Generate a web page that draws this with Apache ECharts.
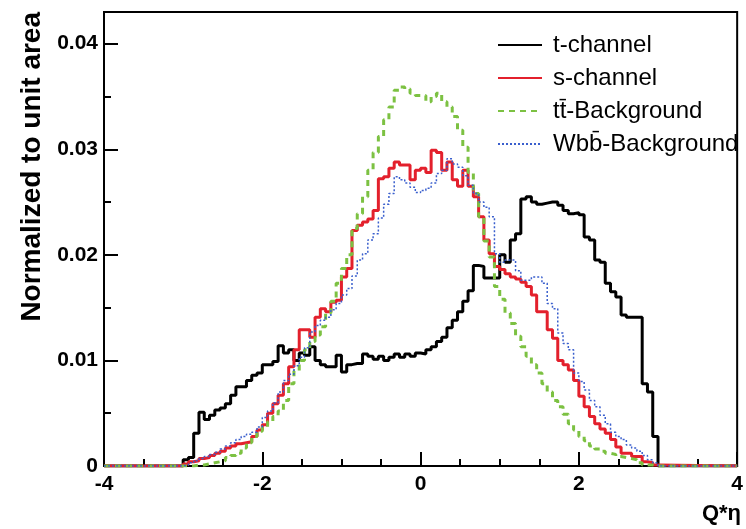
<!DOCTYPE html>
<html><head><meta charset="utf-8">
<script src="https://cdn.jsdelivr.net/npm/echarts/dist/echarts.min.js"></script>
<style>html,body{margin:0;padding:0;background:#fff}#c{width:746px;height:529px}</style>
</head><body><div id="c"></div><script>
// histogram: 120 bins over [-4, 4]; the filled bins run from -3 to 3
const binStart = -3.0;
const binWidth = 1 / 15;
const seriesNames = ['t-channel', 's-channel', 't\u0074\u0304-Background', 'Wb\u0062\u0304-Background'];
const tChannel = [
  0.0006,0.0008,0.0031,0.0051,0.0044,0.0048,0.0053,0.0055,0.0059,0.0067,
  0.0075,0.0075,0.0081,0.0086,0.0088,0.0096,0.0096,0.0099,0.0114,0.0107,
  0.0110,0.0100,0.0107,0.0105,0.0113,0.0100,0.0096,0.0094,0.0094,0.0105,
  0.0089,0.0096,0.0097,0.0097,0.0106,0.0104,0.0101,0.0104,0.0100,0.0103,
  0.0106,0.0103,0.0106,0.0104,0.0107,0.0106,0.0110,0.0113,0.0118,0.0122,
  0.0131,0.0138,0.0146,0.0156,0.0166,0.0190,0.0189,0.0178,0.0178,0.0178,
  0.0200,0.0193,0.0214,0.0220,0.0253,0.0255,0.0250,0.0248,0.0249,0.0250,
  0.0250,0.0247,0.0242,0.0239,0.0240,0.0238,0.0217,0.0214,0.0195,0.0193,
  0.0173,0.0165,0.0160,0.0143,0.0141,0.0141,0.0141,0.0078,0.0070,0.0028];
const sChannel = [
  0.0002,0.0004,0.0005,0.0007,0.0008,0.0010,0.0012,0.0014,0.0017,0.0019,
  0.0021,0.0022,0.0023,0.0028,0.0034,0.0039,0.0050,0.0059,0.0067,0.0078,
  0.0094,0.0110,0.0129,0.0129,0.0122,0.0141,0.0149,0.0146,0.0155,0.0157,
  0.0179,0.0187,0.0223,0.0228,0.0231,0.0234,0.0242,0.0272,0.0274,0.0282,
  0.0288,0.0285,0.0285,0.0271,0.0280,0.0282,0.0278,0.0299,0.0297,0.0280,
  0.0288,0.0271,0.0265,0.0280,0.0265,0.0255,0.0236,0.0214,0.0201,0.0189,
  0.0186,0.0182,0.0179,0.0177,0.0174,0.0170,0.0162,0.0146,0.0146,0.0129,
  0.0121,0.0100,0.0096,0.0091,0.0081,0.0066,0.0056,0.0047,0.0040,0.0035,
  0.0031,0.0025,0.0018,0.0012,0.0012,0.0009,0.0009,0.0004,0.0003,0.0001];
const ttBackground = [
  0.0000,0.0000,0.0001,0.0001,0.0002,0.0003,0.0004,0.0005,0.0008,0.0010,
  0.0012,0.0017,0.0022,0.0028,0.0033,0.0037,0.0042,0.0047,0.0052,0.0062,
  0.0078,0.0090,0.0100,0.0110,0.0118,0.0124,0.0132,0.0145,0.0156,0.0173,
  0.0187,0.0200,0.0225,0.0239,0.0255,0.0280,0.0297,0.0312,0.0328,0.0340,
  0.0356,0.0359,0.0357,0.0353,0.0351,0.0351,0.0345,0.0350,0.0353,0.0345,
  0.0340,0.0331,0.0318,0.0302,0.0278,0.0258,0.0236,0.0213,0.0198,0.0170,
  0.0158,0.0145,0.0135,0.0123,0.0113,0.0104,0.0096,0.0088,0.0078,0.0070,
  0.0062,0.0056,0.0049,0.0040,0.0034,0.0028,0.0024,0.0019,0.0016,0.0014,
  0.0012,0.0011,0.0009,0.0008,0.0007,0.0006,0.0003,0.0001,0.0001,0.0000];
const wbbBackground = [
  0.0001,0.0003,0.0005,0.0007,0.0009,0.0011,0.0013,0.0016,0.0019,0.0022,
  0.0025,0.0028,0.0030,0.0032,0.0037,0.0046,0.0052,0.0060,0.0070,0.0081,
  0.0087,0.0095,0.0103,0.0112,0.0127,0.0133,0.0138,0.0141,0.0148,0.0154,
  0.0162,0.0168,0.0180,0.0195,0.0201,0.0214,0.0220,0.0235,0.0248,0.0258,
  0.0274,0.0271,0.0268,0.0264,0.0259,0.0261,0.0263,0.0268,0.0277,0.0280,
  0.0291,0.0286,0.0283,0.0275,0.0266,0.0258,0.0250,0.0245,0.0236,0.0201,
  0.0193,0.0195,0.0195,0.0185,0.0176,0.0176,0.0179,0.0179,0.0173,0.0154,
  0.0149,0.0126,0.0116,0.0110,0.0088,0.0080,0.0072,0.0062,0.0056,0.0048,
  0.0040,0.0032,0.0028,0.0025,0.0020,0.0017,0.0014,0.0010,0.0006,0.0003];
const xTicks = [-4, -2, 0, 2, 4];
const yTicks = [0, 0.01, 0.02, 0.03, 0.04];

function toSteps(vals) {
  const pts = [[-4, 0]];
  for (let i = 0; i < vals.length; i++) pts.push([+(binStart + i * binWidth).toFixed(4), vals[i]]);
  pts.push([+(binStart + vals.length * binWidth).toFixed(4), 0]);
  pts.push([4, 0]);
  return pts;
}

const chart = echarts.init(document.getElementById('c'), null, {renderer: 'canvas'});
const FONT = 'Liberation Sans, Arial, sans-serif';
const styles = [
  {color: '#000000', width: 3, type: 'solid'},
  {color: '#e3202c', width: 3, type: 'solid'},
  {color: '#7cc142', width: 3, type: [6, 5]},
  {color: '#3a5fcd', width: 1.5, type: [2, 2]}
];
const data = [tChannel, sChannel, ttBackground, wbbBackground];
chart.setOption({
  animation: false,
  backgroundColor: '#fff',
  grid: {left: 104, right: 5, top: 12, bottom: 63, show: true, borderColor: '#000', borderWidth: 2},
  legend: {
    show: true, orient: 'vertical', left: 497, top: 33, padding: 0, itemWidth: 44, itemHeight: 14, itemGap: 9,
    itemStyle: {opacity: 0},
    textStyle: {fontFamily: FONT, fontSize: 24, color: '#000', padding: [0, 0, 0, 6]},
    data: seriesNames
  },
  xAxis: {
    type: 'value', min: xTicks[0], max: xTicks[xTicks.length - 1], interval: 2,
    axisLine: {onZero: false, lineStyle: {color: '#000', width: 2}},
    axisTick: {inside: true, length: 14, lineStyle: {color: '#000', width: 2}},
    minorTick: {show: true, splitNumber: 4, length: 7, lineStyle: {color: '#000', width: 2}},
    splitLine: {show: false},
    axisLabel: {fontFamily: FONT, fontWeight: 'bold', fontSize: 21, color: '#000', margin: 8}
  },
  yAxis: {
    type: 'value', min: 0, max: 0.043, interval: 0.01,
    axisLine: {onZero: false, lineStyle: {color: '#000', width: 2}},
    axisTick: {inside: true, length: 14, lineStyle: {color: '#000', width: 2}},
    minorTick: {show: true, splitNumber: 2, length: 7, lineStyle: {color: '#000', width: 2}},
    splitLine: {show: false},
    axisLabel: {fontFamily: FONT, fontWeight: 'bold', fontSize: 21, color: '#000', margin: 6, showMaxLabel: false,
      formatter: v => (yTicks.indexOf(+v.toFixed(3)) < 0 ? '' : (v === 0 ? '0' : v.toFixed(2)))}
  },
  graphic: [
    {type: 'text', x: 32, y: 12, rotation: Math.PI / 2,
      style: {text: 'Normalized to unit area', font: 'bold 28px ' + FONT, fill: '#000', textAlign: 'right', textVerticalAlign: 'middle'}},
    {type: 'text', x: 741, y: 514,
      style: {text: 'Q*\u03b7', font: 'bold 22px ' + FONT, fill: '#000', textAlign: 'right', textVerticalAlign: 'middle'}}
  ],
  series: data.map((d, i) => ({
    name: seriesNames[i], type: 'line', step: 'end', showSymbol: false, symbol: 'none',
    data: toSteps(d), lineStyle: styles[i], itemStyle: {color: styles[i].color}, z: 2 + i
  }))
});
</script></body></html>
